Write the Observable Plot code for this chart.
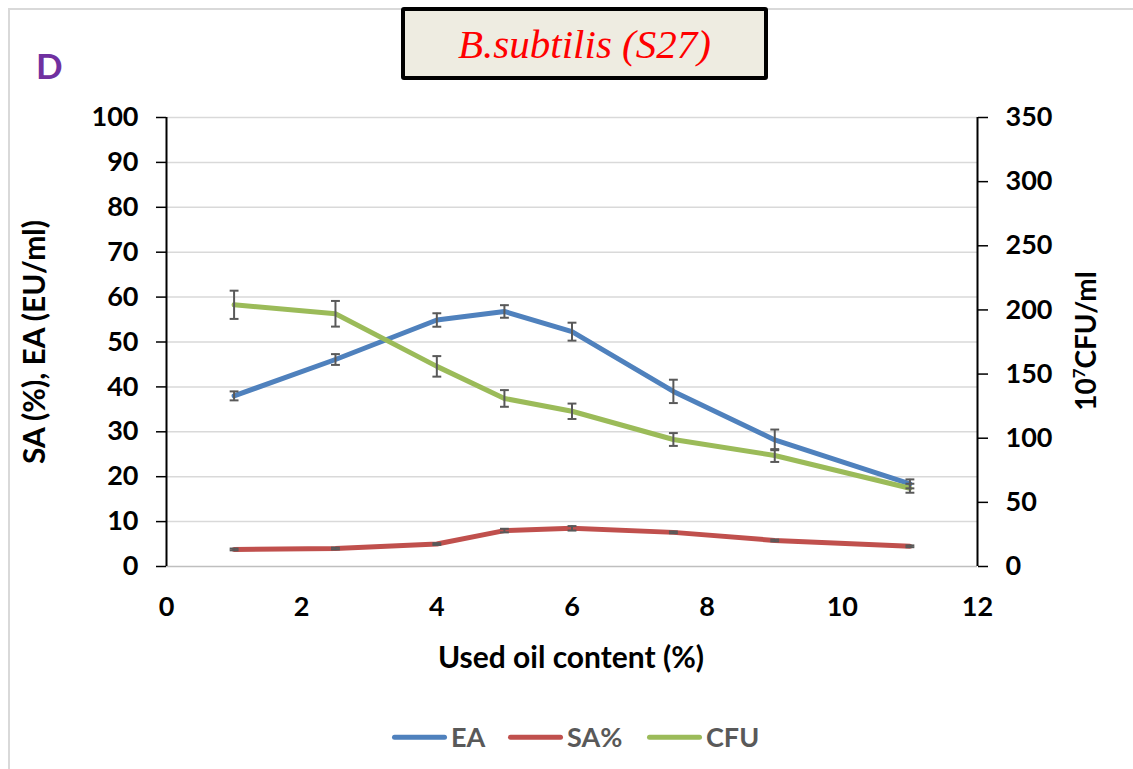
<!DOCTYPE html>
<html>
<head>
<meta charset="utf-8">
<script src="https://cdn.jsdelivr.net/npm/d3@7"></script>
<script src="https://cdn.jsdelivr.net/npm/@observablehq/plot@0.6"></script>
<style>
  body { margin: 0; background: #fff; font-family: Lato, "Open Sans", sans-serif; }
  #wrap { position: relative; width: 1133px; height: 769px; overflow: hidden; }
  #wrap svg { position: absolute; left: 0; top: 0; }
  .ov { position: absolute; white-space: nowrap; }
</style>
</head>
<body>
<div id="wrap"></div>
<script>
// ---- data ----
const oil = [1, 2.5, 4, 5, 6, 7.5, 9, 11];
const EA = [38, 46.1, 54.9, 56.8, 52.3, 39.0, 28.2, 18.4];
const EAerr = [1.0, 1.2, 1.5, 1.4, 2.0, 2.6, 2.3, 1.0];
const SA = [3.8, 4.0, 5.0, 8.0, 8.5, 7.6, 5.8, 4.5];
const SAerr = [0.2, 0.2, 0.2, 0.4, 0.5, 0.2, 0.2, 0.2];
const CFU = [204, 197, 156, 131, 121, 99, 86.5, 61];
const CFUerr = [11, 10, 8, 6.5, 6, 5, 5, 3.5];
const leftTicks = [0, 10, 20, 30, 40, 50, 60, 70, 80, 90, 100];
const rightTicks = [0, 50, 100, 150, 200, 250, 300, 350];
const xTicks = [0, 2, 4, 6, 8, 10, 12];
const seriesNames = ["EA", "SA%", "CFU"];
const seriesColors = ["#4F81BD", "#C0504D", "#9BBB59"];
const ratio = 350 / 100; // right axis / left axis

const rows = [];
oil.forEach((x, i) => {
  rows.push({series: "EA", x, y: EA[i], e: EAerr[i]});
  rows.push({series: "SA%", x, y: SA[i], e: SAerr[i]});
  rows.push({series: "CFU", x, y: CFU[i] / ratio, e: CFUerr[i] / ratio});
});

const capSymbol = {
  draw(ctx, size) { const r = Math.sqrt(size) / 2; ctx.moveTo(-r, 0); ctx.lineTo(r, 0); }
};
const errColor = "#595959";
const font = "Lato, 'Open Sans', sans-serif";

const chart = Plot.plot({
  width: 1133,
  height: 769,
  marginLeft: 166,
  marginRight: 156,
  marginTop: 117,
  marginBottom: 203,
  style: {fontFamily: font, fontSize: "27px", fontWeight: "bold", color: "#000", background: "transparent"},
  x: {domain: [0, 12]},
  y: {domain: [0, 100]},
  color: {domain: seriesNames, range: seriesColors},
  marks: [
    Plot.ruleY(leftTicks.filter(d => d > 0), {stroke: "#d9d9d9", strokeWidth: 1.5}),
    Plot.ruleY([0], {stroke: "#bfbfbf", strokeWidth: 1.5}),
    Plot.axisY(leftTicks, {anchor: "left", tickSize: 10, tickPadding: 18, strokeWidth: 1.5, label: null, fontSize: 27}),
    Plot.axisY(rightTicks.map(v => v / ratio), {anchor: "right", tickSize: 10, tickPadding: 18, strokeWidth: 1.5, label: null, tickFormat: d => Math.round(d * ratio), fontSize: 27}),
    Plot.axisX(xTicks, {anchor: "bottom", tickSize: 0, tickPadding: 30, label: null, fontSize: 27}),
    Plot.ruleX([0, 12], {stroke: "#000", strokeWidth: 2}),
    Plot.line(rows, {x: "x", y: "y", z: "series", stroke: "series", strokeWidth: 5, strokeLinejoin: "round"}),
    Plot.ruleX(rows, {x: "x", y1: d => d.y - d.e, y2: d => d.y + d.e, stroke: errColor, strokeWidth: 2}),
    Plot.dot(rows, {x: "x", y: d => d.y - d.e, symbol: capSymbol, r: 5, stroke: errColor, strokeWidth: 2, fill: "none"}),
    Plot.dot(rows, {x: "x", y: d => d.y + d.e, symbol: capSymbol, r: 5, stroke: errColor, strokeWidth: 2, fill: "none"})
  ]
});

const wrap = document.getElementById("wrap");

// outer frame lines
const frame = document.createElement("div");
frame.className = "ov";
frame.style.cssText = "left:8px;top:8px;width:1200px;height:800px;border-left:2px solid #d9d9d9;border-top:2px solid #d9d9d9;";
wrap.appendChild(frame);

wrap.appendChild(chart);

function addDiv(html, css) {
  const d = document.createElement("div");
  d.className = "ov";
  d.style.cssText = css;
  d.innerHTML = html;
  wrap.appendChild(d);
  return d;
}

// title box
addDiv("B.subtilis (S27)",
  "left:401px;top:7px;width:359px;height:65px;border:4px solid #000;border-radius:3px;background:#EEECE1;" +
  "color:#FF0000;font-family:'Liberation Serif','DejaVu Serif',serif;font-style:italic;font-size:41px;" +
  "display:flex;align-items:center;justify-content:center;");

// panel letter
addDiv("D", "left:36px;top:44px;color:#7030A0;font-weight:bold;font-size:35px;font-family:" + font + ";");

// axis titles
addDiv("SA (%), EA (EU/ml)",
  "left:33px;top:342px;transform:translate(-50%,-50%) rotate(-90deg);font-weight:bold;font-size:30px;color:#000;");
addDiv("10<sup style='font-size:0.6em;vertical-align:0.7em'>7</sup>CFU/ml",
  "left:1085px;top:341px;transform:translate(-50%,-50%) rotate(-90deg);font-weight:bold;font-size:28px;color:#000;");
addDiv("Used oil content (%)",
  "left:571px;top:656px;transform:translate(-50%,-50%);font-weight:bold;font-size:30px;color:#000;");

// legend
const legendX = [392, 508, 647];
seriesNames.forEach((name, i) => {
  addDiv(
    `<span style="display:inline-block;width:55px;height:5px;border-radius:3px;background:${seriesColors[i]};vertical-align:middle;margin-right:4px"></span>` +
    `<span style="vertical-align:middle">${name}</span>`,
    `left:${legendX[i]}px;top:735px;transform:translateY(-50%);font-weight:bold;font-size:27px;color:#595959;`);
});
</script>
</body>
</html>
